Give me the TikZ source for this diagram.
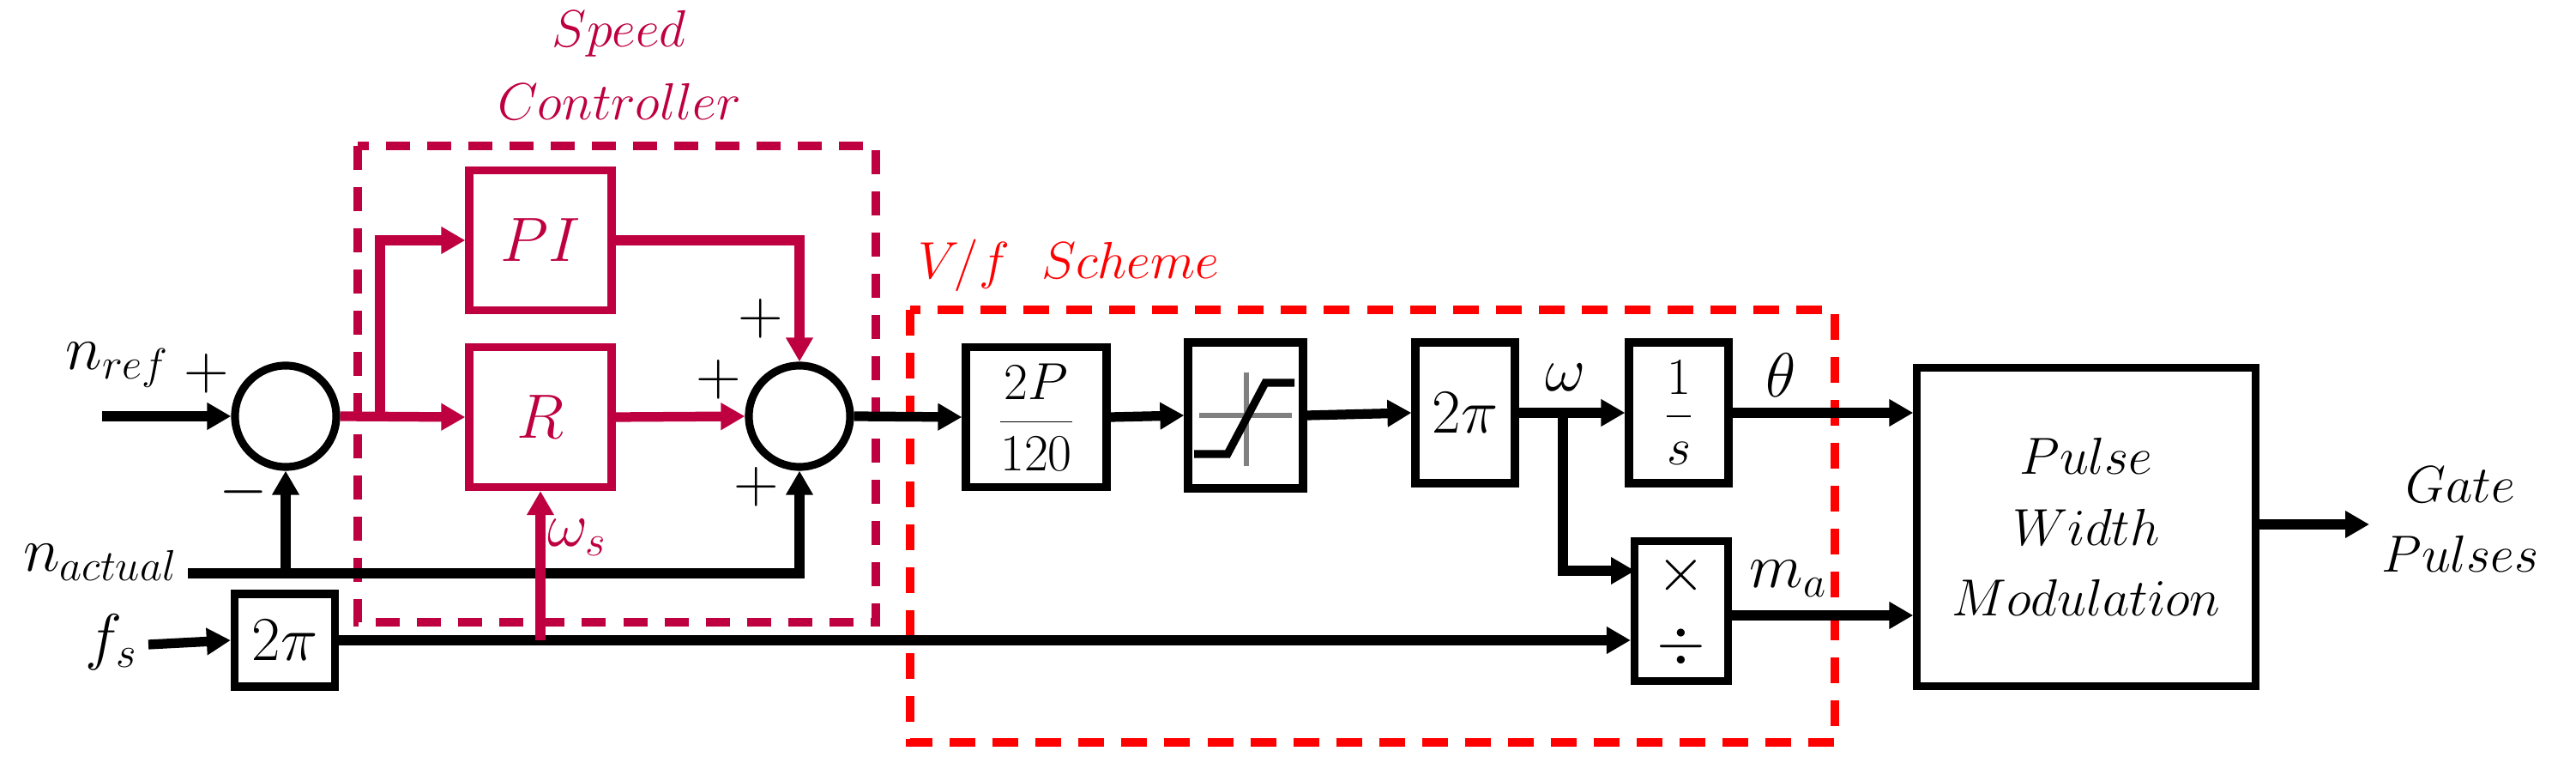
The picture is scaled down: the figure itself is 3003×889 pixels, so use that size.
\documentclass[tikz,border=0pt]{standalone}
\usetikzlibrary{arrows.meta}
\definecolor{crim}{RGB}{190,0,65}
\begin{document}
\begin{tikzpicture}[x=0.01cm,y=-0.01cm,
  font=\fontsize{20.74}{25}\selectfont,
  box/.style={draw,line width=2.6pt,inner sep=0pt},
  cbox/.style={draw=crim,line width=2.6pt,inner sep=0pt,text=crim},
  sumn/.style={draw,circle,line width=2.6pt,minimum size=1.18cm,inner sep=0pt},
  arr/.style={line width=3.2pt,-{Triangle[length=0.28cm,width=0.3cm]}},
  carr/.style={line width=3.2pt,draw=crim,-{Triangle[length=0.28cm,width=0.3cm]},crim},
  ln/.style={line width=3.2pt},
  lbl/.style={inner sep=0pt}]
\useasboundingbox (0,0) rectangle (3003,889);
% dashed regions
\draw[crim,line width=2.6pt,dash pattern=on 0.28cm off 0.2cm] (417,170) rectangle (1021,725);
\draw[red,line width=2.6pt,dash pattern=on 0.3cm off 0.2cm] (1061,361) rectangle (2139,865);
\node[lbl,crim,align=center,font=\fontsize{17.28}{24}\selectfont] (sct) at (722,76) {$Speed$\\$Controller$};
\node[lbl,red,font=\fontsize{17.28}{21}\selectfont] (vft) at (1246,309) {$V/f\ \ Scheme$};
% nodes
\node[sumn] (s1) at (333,485) {};
\node[sumn] (s2) at (932,485) {};
\node[cbox,minimum width=1.66cm,minimum height=1.63cm] (pi) at (630,280) {$PI$};
\node[cbox,minimum width=1.66cm,minimum height=1.63cm] (r) at (630,486) {$R$};
\node[box,minimum width=1.17cm,minimum height=1.08cm] (tp) at (332,746) {$2\pi$};
\node[box,minimum width=1.64cm,minimum height=1.63cm,font=\fontsize{17.28}{21}\selectfont] (gp) at (1208,486) {$\displaystyle\frac{2P}{120}$};
\node[box,minimum width=1.34cm,minimum height=1.70cm] (sat) at (1452,484) {};
\draw[gray,line width=1.5pt] (1398,484) -- (1506,484) (1453,434) -- (1453,543);
\draw[line width=2.6pt] (1392,529) -- (1431,529) -- (1475,446) -- (1509,446);
\node[box,minimum width=1.16cm,minimum height=1.64cm] (w2) at (1708,481) {$2\pi$};
\node[box,minimum width=1.16cm,minimum height=1.64cm,font=\fontsize{17.28}{21}\selectfont] (int) at (1957,481) {$\displaystyle\frac{1}{s}$};
\node[box,minimum width=1.09cm,minimum height=1.63cm,align=center,font=\fontsize{20.74}{23.5}\selectfont] (mul) at (1960,712) {$\times$\\$\div$};
\node[box,minimum width=3.94cm,minimum height=3.70cm,align=center,font=\fontsize{17.28}{23.5}\selectfont] (pwm) at (2432,614) {$Pulse$\\$Width$\\$Modulation$};
% coordinates
\coordinate (nin) at (119,485);
\coordinate (br) at (443,485);
\coordinate (na) at (219,668);
\coordinate (fsin) at (173,751);
\coordinate (wbr) at (1822,484);
\coordinate (mulin) at (1906,665);
\coordinate (gout) at (2762,611);
% connectors
\draw[arr] (nin) -- (s1.west);
\draw[carr] (s1.east) -- (r.west);
\draw[carr] (br) |- (pi.west);
\draw[carr] (pi.east) -| (s2.north);
\draw[carr] (r.east) -- (s2.west);
\draw[arr] (na) -| (s2.south);
\draw[arr] (s1.south |- na) -- (s1.south);
\draw[arr] (fsin) -- (tp.west);
\draw[arr] (tp.east) -- (mul.west |- tp.east);
\draw[carr] (r.south |- tp.east) -- (r.south);
\draw[arr] (s2.east) -- (gp.west);
\draw[arr] (gp.east) -- (sat.west);
\draw[arr] (sat.east) -- (w2.west);
\draw[arr] (w2.east) -- (int.west);
\draw[arr] (wbr) |- (mulin);
\draw[arr] (int.east) -- (int.east -| pwm.west);
\draw[ln] (mul.east |- 0,717) -- (2200,717);
\draw[arr] (2200,717) -- (pwm.west |- 0,717);
\draw[arr] (pwm.east |- gout) -- (gout);
% labels
\node[lbl] (lnref) at (137,425) {$n_{ref}$};
\node[lbl] (lp1) at (241,435) {$+$};
\node[lbl] (lm1) at (284,573) {$-$};
\node[lbl] (lp2) at (887,371) {$+$};
\node[lbl] (lp3) at (838,442) {$+$};
\node[lbl] (lp4) at (882,567) {$+$};
\node[lbl] (lna) at (117,655) {$n_{actual}$};
\node[lbl] (lfs) at (130,748) {$f_s$};
\node[lbl,crim] (lws) at (673,626) {$\omega_s$};
\node[lbl] (lw) at (1825,440) {$\omega$};
\node[lbl] (lth) at (2076,437) {$\theta$};
\node[lbl] (lma) at (2085,674) {$m_a$};
\node[lbl,align=center,font=\fontsize{17.28}{23}\selectfont] (lgp) at (2868,605) {$Gate$\\$Pulses$};
\end{tikzpicture}
\end{document}
